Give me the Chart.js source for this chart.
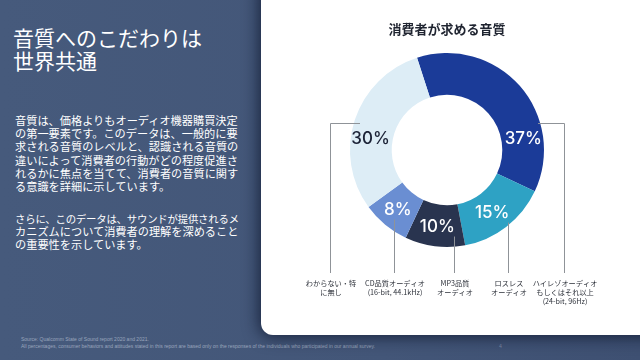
<!DOCTYPE html>
<html>
<head>
<meta charset="utf-8">
<script src="https://cdn.jsdelivr.net/npm/chart.js@4/dist/chart.umd.min.js"></script>
<style>
  html, body { margin: 0; padding: 0; }
  body {
    width: 640px; height: 360px; overflow: hidden; position: relative;
    background: linear-gradient(90deg, #465a7c 0%, #435678 60%, #3e5072 100%);
    font-family: "Noto Sans CJK JP", sans-serif;
  }
  #card {
    position: absolute; left: 261px; top: -20px; width: 420px; height: 355px;
    background: #fff; border-radius: 12px;
    box-shadow: 0 0 16px 2px rgba(10, 18, 40, 0.75);
  }
  #wrap { position: absolute; left: 261px; top: 0; width: 379px; height: 335px; }
  #heading {
    position: absolute; left: 13px; top: 26px; color: #fff;
    font-size: 21px; line-height: 23px; white-space: nowrap;
  }
  .para {
    position: absolute; left: 15px; color: #fff; font-size: 11.2px;
    line-height: 13.2px; white-space: nowrap;
  }
  #foot {
    position: absolute; left: 21px; top: 336px; color: #9aa6bd;
    font-family: "Liberation Sans", sans-serif; font-size: 5px; line-height: 6.5px;
  }
  #page { position: absolute; left: 499px; top: 343px; color: #7f8ca6; font-size: 5px; font-family: "Liberation Sans", sans-serif; }
</style>
</head>
<body>
<div id="heading">音質へのこだわりは<br>世界共通</div>
<div class="para" style="top:114px">音質は、価格よりもオーディオ機器購買決定<br>の第一要素です。このデータは、一般的に要<br>求される音質のレベルと、認識される音質の<br>違いによって消費者の行動がどの程度促進さ<br>れるかに焦点を当てて、消費者の音質に関す<br>る意識を詳細に示しています。</div>
<div class="para" style="top:212px; font-size:10.4px; letter-spacing:-0.2px">さらに、このデータは、サウンドが提供されるメ</div>
<div class="para" style="top:225.2px">カニズムについて消費者の理解を深めること<br>の重要性を示しています。</div>
<div id="foot">Source: Qualcomm State of Sound report 2020 and 2021.<br>All percentages, consumer behaviors and attitudes stated in this report are based only on the responses of the individuals who participated in our annual survey.</div>
<div id="page">4</div>
<div id="card"></div>
<div id="wrap"><canvas id="donut" width="379" height="335"></canvas></div>

<script>
// data
let categories = [
    'ハイレゾオーディオ\nもしくはそれ以上\n(24-bit, 96Hz)',
    'ロスレス\nオーディオ',
    'MP3品質\nオーディオ',
    'CD品質オーディオ\n(16-bit, 44.1kHz)',
    'わからない・特\nに無し'
] ;
let shares = [37, 15, 10, 8, 30] ;
let sliceColors = ['#1b3b98', '#2ea2c4', '#29344f', '#6a8ed2', '#ddedf6'] ;
let pctColors = ['#fff', '#fff', '#fff', '#fff', '#1b2236'] ;

// label placement tweaks (degrees of shift / leader style), not data
let labelShift = [33, 2, 0, 0, -10] ;
let leaderKind = ['elbow', 'drop', 'drop', 'drop', 'elbow'] ;
let leaderDx = [0, 16, 17, -4, 0] ;

const leaderPlugin = {
    id : 'leaders',
    afterDatasetsDraw(chart){
        const ctx = chart.ctx ;
        const arcs = chart.getDatasetMeta(0).data ;
        const baseY = chart.chartArea.bottom + 26 ;
        ctx.save() ;
        arcs.forEach(function(arc, i){
            const p = arc.getProps(['x', 'y', 'startAngle', 'endAngle', 'innerRadius', 'outerRadius']) ;
            const mid = (p.startAngle + p.endAngle) / 2 + labelShift[i] * Math.PI / 180 ;
            const r = (p.innerRadius + p.outerRadius) / 2 + 1 ;
            const lx = p.x + Math.cos(mid) * r ;
            const ly = p.y + Math.sin(mid) * r ;

            // percent label
            ctx.fillStyle = pctColors[i] ;
            ctx.font = '500 17px Inter, sans-serif' ;
            ctx.textAlign = 'center' ;
            ctx.textBaseline = 'middle' ;
            ctx.fillText(shares[i] + '%', lx, ly) ;

            // leader line
            ctx.strokeStyle = '#8f9398' ;
            ctx.lineWidth = 1 ;
            ctx.beginPath() ;
            let colX ;
            if (leaderKind[i] === 'elbow'){
                const hy = ly - 16 ;
                const side = lx < p.x ? -1 : 1 ;
                const edge = p.x + side * Math.sqrt(p.outerRadius * p.outerRadius - (p.y - hy) * (p.y - hy)) ;
                const sx = edge - side * (side < 0 ? 6 : 2) ;
                colX = edge + side * 24 ;
                ctx.moveTo(Math.round(sx), Math.round(hy) + 0.5) ;
                ctx.lineTo(Math.round(colX) + 0.5, Math.round(hy) + 0.5) ;
                ctx.lineTo(Math.round(colX) + 0.5, baseY) ;
            } else {
                colX = lx + leaderDx[i] ;
                ctx.moveTo(Math.round(colX) + 0.5, ly + 10) ;
                ctx.lineTo(Math.round(colX) + 0.5, baseY) ;
            }
            ctx.stroke() ;

            // category label
            ctx.fillStyle = '#2b2f38' ;
            ctx.font = '7.2px "Noto Sans CJK JP", sans-serif' ;
            categories[i].split('\n').forEach(function(line, k){
                ctx.fillText(line, Math.round(colX) + 1, baseY + 10 + k * 9.3) ;
            }) ;
        }) ;
        ctx.restore() ;
    }
} ;

let chart = document.getElementById('donut').getContext('2d') ;
let mychart = new Chart(chart, {
    type : 'doughnut',
    data : {
        labels : categories,
        datasets : [{
            data : shares,
            backgroundColor : sliceColors,
            borderWidth : 0
        }]
    },
    options : {
        responsive : false,
        animation : false,
        rotation : -18,
        cutout : '57%',
        layout : {
            padding : { top : 21, bottom : 88, left : 89, right : 96 }
        },
        plugins : {
            legend : { display : false },
            tooltip : { enabled : false },
            title : {
                display : true,
                text : '消費者が求める音質',
                color : '#1f2430',
                font : { family : '"Noto Sans CJK JP", sans-serif', size : 13, weight : 'bold' },
                padding : { top : 0, bottom : 16.4 }
            }
        }
    },
    plugins : [leaderPlugin]
}) ;
</script>
</body>
</html>
